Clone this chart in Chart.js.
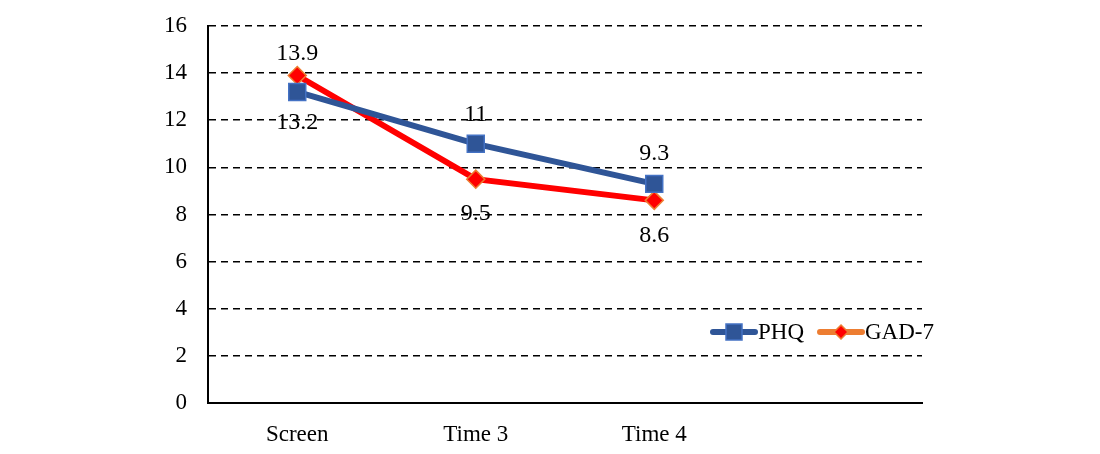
<!DOCTYPE html>
<html>
<head>
<meta charset="utf-8">
<script src="https://cdn.jsdelivr.net/npm/chart.js@4/dist/chart.umd.min.js"></script>
<style>
  html, body { margin: 0; padding: 0; background: #fff; }
  #wrap { width: 1100px; height: 454px; }
</style>
</head>
<body>
<div id="wrap"><canvas id="scoreChart"></canvas></div>
<script>
// categories (4th slot is empty in the original)
const categories = ['Screen', 'Time 3', 'Time 4', ''];
const phqValues = [13.2, 11, 9.3];
const gadValues = [13.9, 9.5, 8.6];
const yTicks = [0, 2, 4, 6, 8, 10, 12, 14, 16];

const serif = '"Liberation Serif", "Times New Roman", serif';

// value labels drawn next to each point
const valueLabels = {
    id: 'valueLabels',
    afterDatasetsDraw(chart) {
        const ctx = chart.ctx;
        ctx.save();
        ctx.font = '24px ' + serif;
        ctx.fillStyle = '#000';
        ctx.textAlign = 'center';
        ctx.textBaseline = 'middle';
        chart.data.datasets.forEach((ds, i) => {
            const meta = chart.getDatasetMeta(i);
            meta.data.forEach((pt, j) => {
                ctx.fillText(String(ds.data[j]), pt.x, pt.y + ds.labelDy[j]);
            });
        });
        ctx.restore();
    }
};

// legend with line + marker, sitting inside the plot
const lineLegend = {
    id: 'lineLegend',
    afterDraw(chart) {
        const ctx = chart.ctx;
        const y = 332;
        let x = 713;
        ctx.save();
        ctx.font = '23px ' + serif;
        ctx.textBaseline = 'middle';
        chart.data.datasets.forEach(ds => {
            ctx.strokeStyle = ds.legendLine;
            ctx.lineWidth = 6;
            ctx.lineCap = 'round';
            ctx.beginPath();
            ctx.moveTo(x, y);
            ctx.lineTo(x + 42, y);
            ctx.stroke();
            const cx = x + 21;
            ctx.fillStyle = ds.pointBackgroundColor;
            ctx.strokeStyle = ds.pointBorderColor;
            ctx.lineWidth = 1.5;
            ctx.beginPath();
            if (ds.pointStyle === 'rect') {
                ctx.rect(cx - 8, y - 8, 16, 16);
            } else {
                ctx.moveTo(cx, y - 7); ctx.lineTo(cx + 7, y);
                ctx.lineTo(cx, y + 7); ctx.lineTo(cx - 7, y);
                ctx.closePath();
            }
            ctx.fill();
            ctx.stroke();
            ctx.fillStyle = '#000';
            ctx.fillText(ds.label, x + 45, y + 1);
            x += 45 + ctx.measureText(ds.label).width + 16;
        });
        ctx.restore();
    }
};

const ctx = document.getElementById('scoreChart').getContext('2d');

new Chart(ctx, {
    type: 'line',
    data: {
        labels: categories,
        datasets: [{
            label: 'PHQ',
            data: phqValues,
            borderColor: '#2F5597',
            borderWidth: 6,
            pointStyle: 'rect',
            pointRadius: 12,
            pointBackgroundColor: '#2F5597',
            pointBorderColor: '#4472C4',
            pointBorderWidth: 1.5,
            legendLine: '#2F5597',
            labelDy: [31, -29, -30],  // below, above, above
            tension: 0
        }, {
            label: 'GAD-7',
            data: gadValues,
            borderColor: '#FF0000',
            borderWidth: 6,
            pointStyle: 'rectRot',
            pointRadius: 9,
            pointBackgroundColor: '#FF0000',
            pointBorderColor: '#ED7D31',
            pointBorderWidth: 1.5,
            legendLine: '#ED7D31',
            labelDy: [-22, 35, 35],   // above, below, below
            tension: 0
        }]
    },
    options: {
        responsive: true,
        maintainAspectRatio: false,
        animation: false,
        layout: { padding: { left: 0, right: 178, top: 26, bottom: 0 } },
        plugins: {
            legend: { display: false },
            tooltip: { enabled: false }
        },
        scales: {
            x: {
                offset: true,
                grid: { display: false, drawTicks: false },
                border: { color: '#000', width: 2 },
                ticks: {
                    color: '#000',
                    font: { family: serif, size: 23 },
                    padding: 18,
                    maxRotation: 0
                },
                afterFit: s => { s.height = 51; s.paddingLeft = 0; s.paddingRight = 0; }
            },
            y: {
                min: 0,
                max: 16,
                afterBuildTicks: s => { s.ticks = yTicks.map(v => ({ value: v })); },
                grid: {
                    color: c => c.tick.value === 0 ? 'rgba(0,0,0,0)' : '#000',
                    lineWidth: 1.6,
                    drawTicks: false
                },
                border: { color: '#000', width: 2, dash: [7, 5] },
                ticks: {
                    color: '#000',
                    font: { family: serif, size: 23 },
                    padding: 21
                },
                afterFit: s => { s.width = 208; s.paddingTop = 0; s.paddingBottom = 0; }
            }
        }
    },
    plugins: [valueLabels, lineLegend]
});
</script>
</body>
</html>
